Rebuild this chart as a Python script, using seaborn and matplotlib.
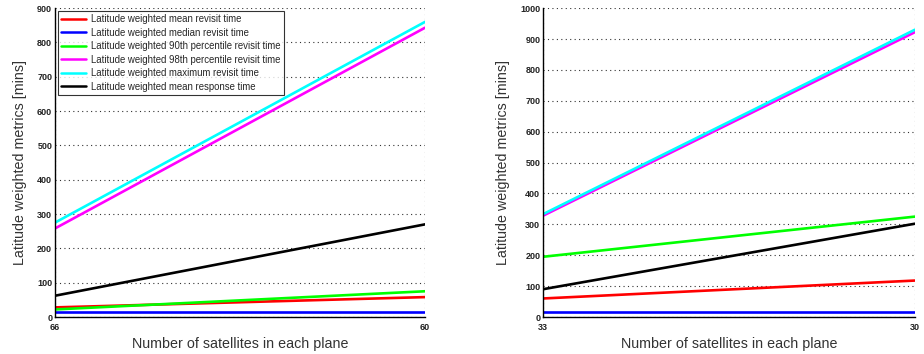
import matplotlib
matplotlib.use("Agg")
import matplotlib.pyplot as plt
import seaborn as sns
import pandas as pd

series_names = [
    "Latitude weighted mean revisit time",
    "Latitude weighted median revisit time",
    "Latitude weighted 90th percentile revisit time",
    "Latitude weighted 98th percentile revisit time",
    "Latitude weighted maximum revisit time",
    "Latitude weighted mean response time",
]
series_colors = ["#ff0000", "#0000ff", "#00ff00", "#ff00ff", "#00ffff", "#000000"]

# Left panel: 66 -> 60 satellites per plane
sats_left = [66, 60]
mean_left = [28, 58]
median_left = [15, 15]
p90_left = [22, 75]
p98_left = [258, 843]
max_left = [275, 860]
resp_left = [62, 270]

# Right panel: 33 -> 30 satellites per plane
sats_right = [33, 30]
mean_right = [60, 118]
median_right = [15, 15]
p90_right = [195, 325]
p98_right = [328, 922]
max_right = [333, 930]
resp_right = [90, 302]


def long_frame(x, cols):
    rows = []
    for name, vals in zip(series_names, cols):
        for xv, yv in zip(x, vals):
            rows.append({"sats": xv, "value": yv, "metric": name})
    return pd.DataFrame(rows)


df_left = long_frame(sats_left, [mean_left, median_left, p90_left, p98_left, max_left, resp_left])
df_right = long_frame(sats_right, [mean_right, median_right, p90_right, p98_right, max_right, resp_right])

sns.set_theme(style="white")
plt.rcParams["font.family"] = ["Liberation Sans", "DejaVu Sans"]

fig = plt.figure(figsize=(9.24, 3.54), dpi=100)
ax1 = fig.add_axes([0.0595, 0.1045, 0.4005, 0.8725])
ax2 = fig.add_axes([0.5877, 0.1045, 0.4023, 0.8725])

palette = dict(zip(series_names, series_colors))

for ax, df, xs, ymax, show_legend in [
    (ax1, df_left, sats_left, 900, True),
    (ax2, df_right, sats_right, 1000, False),
]:
    sns.lineplot(data=df, x="sats", y="value", hue="metric", hue_order=series_names,
                 palette=palette, linewidth=1.9, ax=ax, legend=show_legend)
    ax.set_xlim(xs[0], xs[1])
    ax.set_ylim(0, ymax)
    ax.set_xticks(xs)
    ax.set_xticklabels([str(v) for v in xs])
    ax.set_yticks(range(0, ymax + 1, 100))
    ax.tick_params(axis="both", labelsize=6.5, direction="in", length=3, colors="#222222")
    ax.tick_params(axis="x", pad=4)
    ax.tick_params(axis="y", pad=2)
    for lbl in ax.get_xticklabels() + ax.get_yticklabels():
        lbl.set_fontweight("bold")
    ax.grid(True, linestyle=(0, (1, 3)), color="#333333", linewidth=0.8)
    for side in ["top", "right"]:
        ax.spines[side].set_visible(False)
    for side in ["left", "bottom"]:
        ax.spines[side].set_color("black")
        ax.spines[side].set_linewidth(1.0)
    ax.set_xlabel("Number of satellites in each plane", fontsize=10.3, color="#333333", labelpad=4)
    ax.set_ylabel("Latitude weighted metrics [mins]", fontsize=10.3, color="#333333", labelpad=7.5)

leg = ax1.legend(loc="upper left", fontsize=6.9, frameon=True, fancybox=False,
                 edgecolor="black", borderaxespad=0.3, handlelength=2.6,
                 labelspacing=0.36, borderpad=0.35, handletextpad=0.5)
leg.get_frame().set_linewidth(0.8)
for line in leg.get_lines():
    line.set_linewidth(1.8)

fig.savefig("out.png", dpi=100)
